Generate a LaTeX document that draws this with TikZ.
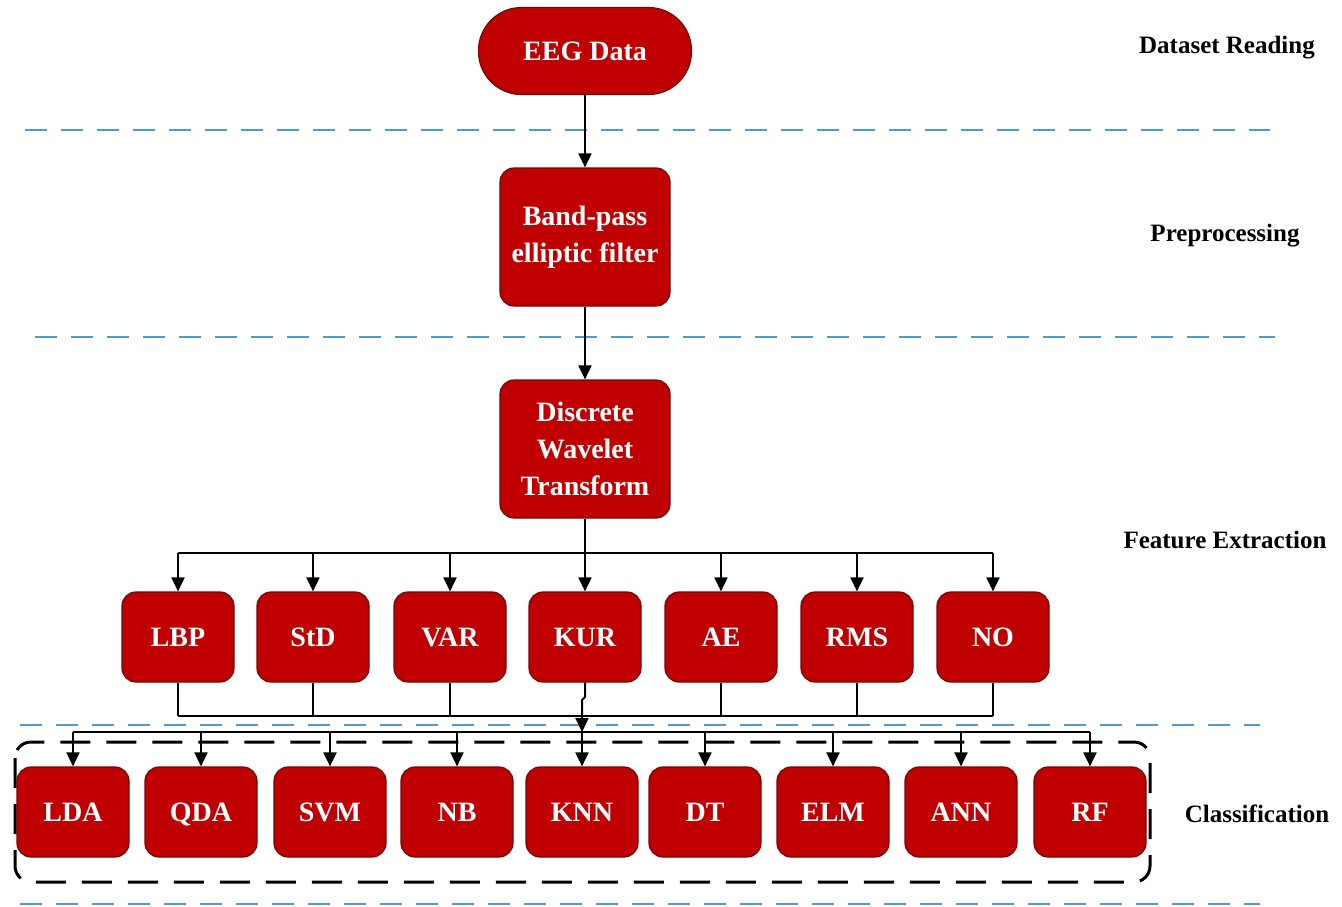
\documentclass[tikz,border=0pt]{standalone}
\usepackage{fontspec}
\setmainfont{Liberation Serif}
\usetikzlibrary{arrows.meta}
\definecolor{boxred}{RGB}{192,0,0}
\definecolor{boxedge}{RGB}{110,10,10}
\definecolor{dashblue}{RGB}{80,155,205}
\tikzset{
  box/.style={draw=boxedge, line width=1.2pt, fill=boxred, rounded corners=14pt,
    minimum width=112pt, minimum height=90pt, inner sep=0pt, text=white,
    font=\bfseries\fontsize{28}{37}\selectfont, align=center},
  small/.style={box, text height=18.5pt, text depth=0pt},
  bigbox/.style={box, minimum width=170pt, minimum height=138pt},
  stage/.style={font=\bfseries\fontsize{25}{30}\selectfont, text=black},
  sep/.style={dashblue, line width=2.5pt, dash pattern=on 22pt off 14pt},
  conn/.style={black, line width=2pt},
  arr/.style={conn, -{Triangle[width=13pt,length=14pt]}},
}
\begin{document}
\begin{tikzpicture}[x=1pt,y=-1pt]
\useasboundingbox (0,0) rectangle (1342,906);
% separators
\draw[sep] (25,130) -- (1270,130);
\draw[sep] (35,337) -- (1275,337);
\draw[sep] (20,725) -- (1260,725);
\draw[sep] (20,904) -- (1260,904);
% classification frame
\draw[black, line width=3pt, dash pattern=on 30pt off 16pt, rounded corners=16pt] (15,742) rectangle (1150,882);
% main nodes
\node[small, rounded corners=43pt, minimum width=213pt, minimum height=87pt] (eeg) at (585,51) {EEG Data};
\node[bigbox] (bpf) at (585,237) {Band-pass\\elliptic filter};
\node[bigbox] (dwt) at (585,449) {Discrete\\Wavelet\\Transform};
% feature nodes
\foreach \n/\t/\x in {lbp/LBP/178, std/StD/313, var/VAR/450, kur/KUR/585, ae/AE/721, rms/RMS/857, no/NO/993}
  \node[small] (\n) at (\x,637) {\t};
% classifiers
\foreach \n/\t/\x in {lda/LDA/73, qda/QDA/201, svm/SVM/330, nb/NB/457, knn/KNN/582, dt/DT/705, elm/ELM/833, ann/ANN/961, rf/RF/1090}
  \node[small] (\n) at (\x,812) {\t};
% stage labels
\node[stage] (l1) at (1227,48) {Dataset Reading};
\node[stage] (l2) at (1225,236) {Preprocessing};
\node[stage] (l3) at (1225,540) {Feature Extraction};
\node[stage] (l4) at (1257,814) {Classification};
% connectors
\draw[arr] (eeg) -- (bpf);
\draw[arr] (bpf) -- (dwt);
\coordinate (fbus) at (585,553);
\draw[conn] (dwt.south) -- (fbus);
\draw[conn] (lbp.north |- fbus) -- (no.north |- fbus);
\foreach \n in {lbp,std,var,kur,ae,rms,no}
  \draw[arr] (\n.north |- fbus) -- (\n.north);
\coordinate (ubus) at (585,716);
\foreach \n in {lbp,std,var,ae,rms,no}
  \draw[conn] (\n.south) -- (\n.south |- ubus);
\draw[conn] (lbp.south |- ubus) -- (no.south |- ubus);
\coordinate (lbus) at (582,732);
\coordinate (jog) at (585,697);
\draw[arr] (kur.south) -- (jog) -- ++(-3,3) -- (lbus);
\draw[conn] (lda.north |- lbus) -- (rf.north |- lbus);
\foreach \n in {lda,qda,svm,nb,knn,dt,elm,ann,rf}
  \draw[arr] (\n.north |- lbus) -- (\n.north);
\end{tikzpicture}
\end{document}
